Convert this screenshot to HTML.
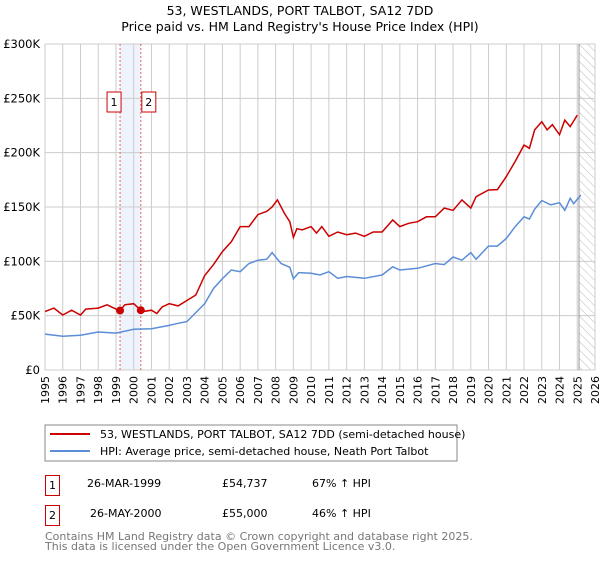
<!DOCTYPE html>
<html><head><meta charset="utf-8"><style>
body{margin:0;background:#fff;font-family:"DejaVu Sans","Liberation Sans",sans-serif;}
svg text{font-family:"DejaVu Sans","Liberation Sans",sans-serif;}
</style></head><body>
<svg id="c" width="600" height="560">
<text x="300" y="15" text-anchor="middle" font-size="12.5">53, WESTLANDS, PORT TALBOT, SA12 7DD</text>
<text x="300" y="31" text-anchor="middle" font-size="12.5">Price paid vs. HM Land Registry's House Price Index (HPI)</text>
<g id="plot"></g>
<rect x="45" y="425" width="412" height="36" fill="#fff" stroke="#888"/>
<line x1="50" y1="434" x2="90" y2="434" stroke="#cc0000" stroke-width="2"/>
<text x="100" y="438" font-size="11">53, WESTLANDS, PORT TALBOT, SA12 7DD (semi-detached house)</text>
<line x1="50" y1="451" x2="90" y2="451" stroke="#5b8ed6" stroke-width="2"/>
<text x="100" y="455" font-size="11">HPI: Average price, semi-detached house, Neath Port Talbot</text>
<rect x="45.5" y="475.5" width="14" height="20" fill="none" stroke="#cc0000"/>
<text x="52.5" y="489" text-anchor="middle" font-size="11">1</text>
<text x="87" y="487" font-size="11">26-MAR-1999</text>
<text x="222" y="487" font-size="11">£54,737</text>
<text x="312" y="487" font-size="11">67% ↑ HPI</text>
<rect x="45.5" y="505.5" width="14" height="20" fill="none" stroke="#cc0000"/>
<text x="52.5" y="519" text-anchor="middle" font-size="11">2</text>
<text x="90" y="517" font-size="11">26-MAY-2000</text>
<text x="222" y="517" font-size="11">£55,000</text>
<text x="312" y="517" font-size="11">46% ↑ HPI</text>
<text x="45" y="540" font-size="11" fill="#777">Contains HM Land Registry data © Crown copyright and database right 2025.</text>
<text x="45" y="550" font-size="11" fill="#777">This data is licensed under the Open Government Licence v3.0.</text>
</svg>
<script>
const hpiYears=[1995,1996,1997,1998,1999,2000,2001,2002,2002.5,2003,2004,2004.5,2005,2005.5,2006,2006.5,2007,2007.5,2007.8,2008.3,2008.8,2009,2009.3,2010,2010.5,2011,2011.5,2012,2013,2014,2014.6,2015,2016,2017,2017.5,2018,2018.5,2019,2019.3,2020,2020.5,2021,2021.5,2022,2022.3,2022.6,2023,2023.5,2024,2024.3,2024.6,2024.8,2025.2];
const hpiValues=[33,31,32,35,34,37.5,38,41,43,44.5,61,75,84,92,90.5,98,101,102,108,98,94.5,84,89.6,89,87.4,90.5,84.4,86,84.4,87.4,95,92,93.6,98,97,104,101,108,102,114,114,121,132,141,139,148,156,152,154,147,158,153,161];
const ppYears=[1995,1995.5,1996,1996.5,1997,1997.3,1998,1998.5,1999,1999.23,1999.5,2000,2000.4,2000.6,2001,2001.3,2001.6,2002,2002.5,2003,2003.5,2004,2004.5,2005,2005.5,2006,2006.5,2007,2007.5,2007.8,2008.1,2008.5,2008.8,2009,2009.2,2009.5,2010,2010.3,2010.6,2011,2011.5,2012,2012.5,2013,2013.5,2014,2014.6,2015,2015.5,2016,2016.5,2017,2017.5,2018,2018.5,2019,2019.3,2020,2020.5,2021,2021.5,2022,2022.3,2022.6,2023,2023.3,2023.6,2024,2024.3,2024.6,2025];
const ppValues=[53.7,57,50.6,55,50.6,56,57,60,56,54.7,60,61,55,54,55,52,58,61,59,64,69,87,97,109,118,132,132,143,146,150,156.5,144,136.5,122,130,129,132,126,132,123,127,124.5,126,123,127,127,138,132,135,136.5,141,141,149,147,156.5,149,159.5,165.6,166,178,192,207,204,221,228.5,221,225.7,216.5,230,224,234.6];
const saleYears=[1999.23,2000.4];
const saleValues=[54.737,55];
const saleLabels=["1","2"];
const yTicks=[0,50,100,150,200,250,300];
const yTickLabels=["£0","£50K","£100K","£150K","£200K","£250K","£300K"];
const xTicks=[1995,1996,1997,1998,1999,2000,2001,2002,2003,2004,2005,2006,2007,2008,2009,2010,2011,2012,2013,2014,2015,2016,2017,2018,2019,2020,2021,2022,2023,2024,2025,2026];
const X0=45,X1=595,Y0=370,Y1=44,xMin=1995,xMax=2026,yMax=300,dataEnd=2025.1;
const sx=v=>X0+(v-xMin)/(xMax-xMin)*(X1-X0);
const sy=v=>Y0-v/yMax*(Y0-Y1);
const NS="http://www.w3.org/2000/svg";
const g=document.getElementById('plot');
function mk(t,a){const e=document.createElementNS(NS,t);for(const k in a)e.setAttribute(k,a[k]);g.appendChild(e);return e;}
const defs=document.createElementNS(NS,'defs');
defs.innerHTML='<pattern id="h" width="6" height="6" patternUnits="userSpaceOnUse" patternTransform="rotate(-45)"><line x1="0" y1="0" x2="0" y2="6" stroke="#bbb" stroke-width="1"/></pattern>';
g.appendChild(defs);
let band=mk('rect',{x:sx(saleYears[0]),y:Y1,width:sx(saleYears[1])-sx(saleYears[0]),height:Y0-Y1,fill:'#eef3fc'});


let hat=mk('rect',{x:sx(dataEnd),y:Y1,width:X1-sx(dataEnd),height:Y0-Y1,fill:'url(#h)'});


xTicks.forEach(t=>{
 let l=mk('line',{x1:sx(t),y1:Y1,x2:sx(t),y2:Y0,stroke:'#ccc','stroke-width':1});
 
 
 const x=sx(t)+4,y=376;
 let tx=mk('text',{x:x,y:y,'text-anchor':'end','font-size':11,transform:'rotate(-90 '+x+' '+y+')'});
 tx.textContent=t;
 
 
});
yTicks.forEach((t,i)=>{
 let l=mk('line',{x1:X0,y1:sy(t),x2:X1,y2:sy(t),stroke:'#ccc','stroke-width':1});
 
 
 let tx=mk('text',{x:40,y:sy(t)+4,'text-anchor':'end','font-size':11.5});
 tx.textContent=yTickLabels[i];
 
 
});
let de=mk('line',{x1:sx(dataEnd),y1:Y1,x2:sx(dataEnd),y2:Y0,stroke:'#999','stroke-width':1});


saleYears.forEach((s,i)=>{
 let l=mk('line',{x1:sx(s),y1:Y1,x2:sx(s),y2:Y0,stroke:'#e06666','stroke-width':1,'stroke-dasharray':'2,2'});
 
 
 let r=mk('rect',{x:sx(s)-14+(i?12:-2)+3,y:92,width:14,height:20,fill:'#fff',stroke:'#cc0000'});
 
 
 let t=mk('text',{x:sx(s)-7+(i?12:-2)+3,y:106,'text-anchor':'middle','font-size':11});
 t.textContent=saleLabels[i];
 
 
});
const path=(xs,ys)=>xs.map((x,i)=>(i?'L':'M')+sx(x).toFixed(1)+','+sy(ys[i]).toFixed(1)).join('');
let hp=mk('path',{d:path(hpiYears,hpiValues),fill:'none',stroke:'#5b8ed6','stroke-width':1.5});


let pp=mk('path',{d:path(ppYears,ppValues),fill:'none',stroke:'#cc0000','stroke-width':1.5});


saleYears.forEach((s,i)=>{
 let c=mk('circle',{cx:sx(s),cy:sy(saleValues[i]),r:4,fill:'#cc0000'});
 
 
});
</script>
</body></html>
